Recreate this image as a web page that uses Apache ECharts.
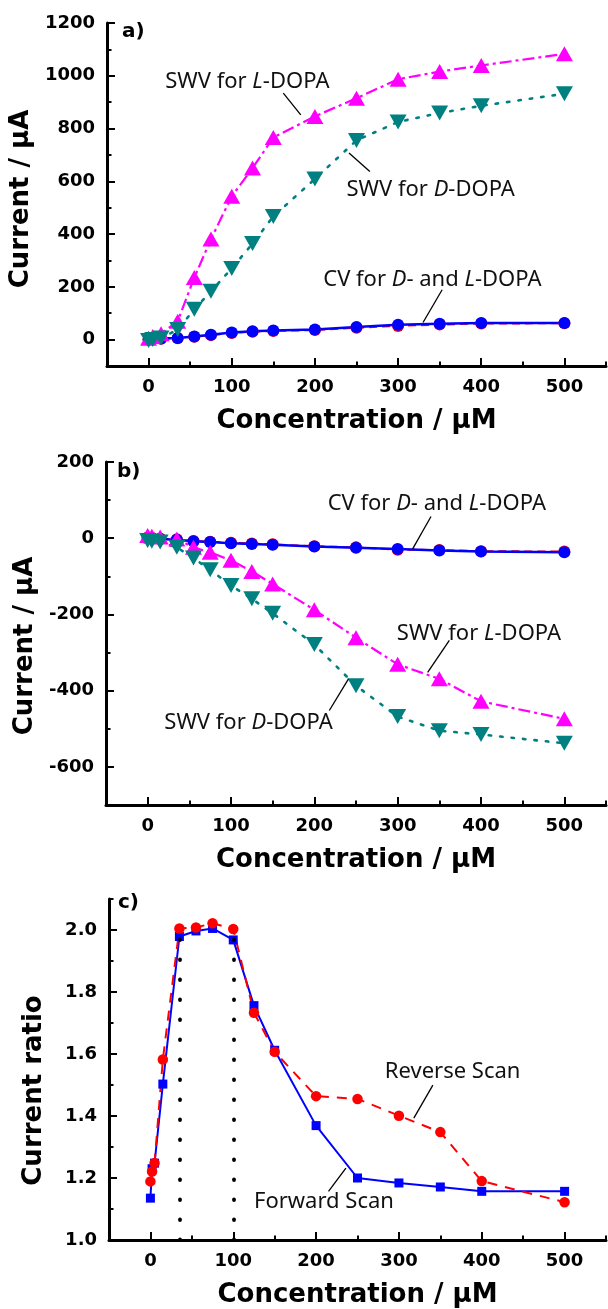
<!DOCTYPE html>
<html><head><meta charset="utf-8">
<script src="https://cdn.jsdelivr.net/npm/echarts@6/dist/echarts.min.js"></script>
<style>html,body{margin:0;padding:0;background:#fff}#c{width:608px;height:1309px}</style>
</head><body><div id="c"></div>
<script>
// ---------- data ----------
const concAB = [0, 5, 15, 35, 55, 75, 100, 125, 150, 200, 250, 300, 350, 400, 500];
const aSwvL = [5, 12, 22, 70, 235, 381, 543, 650, 766, 846, 915, 987, 1016, 1039, 1083];
const aSwvD = [-3, 0, 6, 38, 115, 183, 270, 364, 467, 609, 755, 825, 859, 886, 932];
const aCvL = [0, 2, 4, 6, 12, 18, 27, 32, 35, 38, 48, 56, 60, 63, 63];
const aCvD = [0, 1, 3, 5, 11, 17, 25, 30, 33, 36, 45, 52, 57, 61, 62];

const bSwvL = [7, 5, 3, -2, -24, -37, -58, -87, -120, -188, -261, -331, -369, -428, -474];
const bSwvD = [-6, -8, -10, -24, -52, -83, -124, -159, -197, -279, -387, -468, -505, -515, -538];
const bCvL = [1, 0, -2, -4, -8, -10, -13, -15, -17, -22, -25, -28, -32, -35, -37];
const bCvD = [2, 1, -1, -3, -7, -9, -12, -14, -16, -21, -24, -30, -31, -34, -35];

const concC = [0, 2, 5, 15, 35, 55, 75, 100, 125, 150, 200, 250, 300, 350, 400, 500];
const cForward = [1.135, 1.23, 1.248, 1.503, 1.979, 1.997, 2.005, 1.968, 1.756, 1.612, 1.369, 1.2, 1.184, 1.171, 1.157, 1.157];
const cReverse = [1.189, 1.221, 1.248, 1.582, 2.005, 2.008, 2.022, 2.003, 1.733, 1.607, 1.464, 1.455, 1.401, 1.348, 1.19, 1.122];
const dotLineX = [35, 100];

const xTicks = [0, 100, 200, 300, 400, 500];
const xMinorTicks = [50, 150, 250, 350, 450, 550];
const aYTicks = [0, 200, 400, 600, 800, 1000, 1200];
const aYMinor = [100, 300, 500, 700, 900, 1100];
const bYTicks = [-600, -400, -200, 0, 200];
const bYMinor = [-500, -300, -100, 100];
const cYTicks = [1.0, 1.2, 1.4, 1.6, 1.8, 2.0];
const cYMinor = [1.1, 1.3, 1.5, 1.7, 1.9, 2.1];

const xTitle = 'Concentration / μM';
const yTitles = ['Current / μA', 'Current / μA', 'Current ratio'];
const panelLabels = ['a)', 'b)', 'c)'];

// ---------- helpers ----------
const BOLD = {fontFamily: 'DejaVu Sans', fontWeight: 'bold', color: '#000'};
const pair = (xs, ys) => xs.map((x, i) => [x, ys[i]]);

const grids = [
  {left: 106, top: 23, width: 500, height: 343},
  {left: 106, top: 462, width: 500, height: 343},
  {left: 109, top: 899, width: 497, height: 343}
];

const xAxis = [], yAxis = [];
const yRanges = [[-100, 1200], [-700, 200], [1.0, 2.1]];
const yMajors = [aYTicks, bYTicks, cYTicks];
const yMinors = [aYMinor, bYMinor, cYMinor];
const yNameGap = [66, 66, 62];
const yNamePad = [[0, 9, 0, 0], [0, 25, 0, 0], [0, 42, 0, 0]];

for (let g = 0; g < 3; g++) {
  xAxis.push({
    type: 'value', gridIndex: g, min: -50, max: 550, position: 'bottom',
    axisLine: {show: true, onZero: false, lineStyle: {color: '#000', width: 3}},
    axisTick: {show: true, inside: true, length: 8, customValues: xTicks, lineStyle: {color: '#000', width: 2}},
    axisLabel: Object.assign({customValues: xTicks, fontSize: 18, margin: 12}, BOLD),
    splitLine: {show: false},
    name: xTitle, nameLocation: 'middle', nameGap: 42,
    nameTextStyle: Object.assign({fontSize: 26}, BOLD)
  });
  xAxis.push({
    type: 'value', gridIndex: g, min: -50, max: 550, position: 'bottom',
    axisLine: {show: false, onZero: false},
    axisTick: {show: true, inside: true, length: 4.5, customValues: xMinorTicks, lineStyle: {color: '#000', width: 2}},
    axisLabel: {show: false}, splitLine: {show: false}
  });
  yAxis.push({
    type: 'value', gridIndex: g, min: yRanges[g][0], max: yRanges[g][1], position: 'left',
    axisLine: {show: true, onZero: false, lineStyle: {color: '#000', width: 3}},
    axisTick: {show: true, inside: true, length: 8, customValues: yMajors[g], lineStyle: {color: '#000', width: 2}},
    axisLabel: Object.assign({customValues: yMajors[g], fontSize: 18, margin: 12,
      formatter: g === 2 ? (v => Number(v).toFixed(1)) : (v => String(Math.round(v)))}, BOLD),
    splitLine: {show: false},
    name: yTitles[g], nameLocation: 'middle', nameGap: yNameGap[g],
    nameTextStyle: Object.assign({fontSize: 26, padding: yNamePad[g]}, BOLD)
  });
  yAxis.push({
    type: 'value', gridIndex: g, min: yRanges[g][0], max: yRanges[g][1], position: 'left',
    axisLine: {show: false, onZero: false},
    axisTick: {show: true, inside: true, length: 4.5, customValues: yMinors[g], lineStyle: {color: '#000', width: 2}},
    axisLabel: {show: false}, splitLine: {show: false}
  });
}

function ser(g, xs, ys, o) {
  return Object.assign({
    type: 'line', xAxisIndex: 2 * g, yAxisIndex: 2 * g, data: pair(xs, ys),
    showSymbol: true, animation: false, z: 2
  }, o);
}
const MAG = '#FF00FF', TEAL = '#008080', BLUE = '#0000FF', RED = '#FF0000';
const dashDot = [12, 4, 3, 4];
const dotted = [2.5, 9];
const series = [];
[[aCvD, aCvL, aSwvL, aSwvD], [bCvD, bCvL, bSwvL, bSwvD]].forEach((arrs, g) => {
  series.push(ser(g, concAB, arrs[0], {name: 'CV D', symbol: 'circle', symbolSize: 12,
    itemStyle: {color: RED}, lineStyle: {color: RED, width: 2, type: [8, 5]}}));
  series.push(ser(g, concAB, arrs[1], {name: 'CV L', symbol: 'circle', symbolSize: 12,
    itemStyle: {color: BLUE}, lineStyle: {color: BLUE, width: 2.5}}));
  series.push(ser(g, concAB, arrs[2], {name: 'SWV L', symbol: 'triangle', symbolSize: [17, 15],
    itemStyle: {color: MAG}, lineStyle: {color: MAG, width: 2.2, type: dashDot}}));
  series.push(ser(g, concAB, arrs[3], {name: 'SWV D', symbol: 'triangle', symbolRotate: 180, symbolSize: [17, 15],
    itemStyle: {color: TEAL}, lineStyle: {color: TEAL, width: 2.6, type: dotted, cap: 'round'}}));
});
series.push(ser(2, concC, cForward, {name: 'Forward Scan', symbol: 'rect', symbolSize: 9,
  itemStyle: {color: BLUE}, lineStyle: {color: BLUE, width: 2},
  markLine: {silent: true, symbol: 'none', animation: false, label: {show: false},
    lineStyle: {color: '#000', width: 3.8, type: [0.5, 19.5], cap: 'round'},
    data: dotLineX.map(x => [{coord: [x, cYTicks[0]]}, {coord: [x, cYTicks[cYTicks.length - 1]]}])}}));
series.push(ser(2, concC, cReverse, {name: 'Reverse Scan', symbol: 'circle', symbolSize: 10.5,
  itemStyle: {color: RED}, lineStyle: {color: RED, width: 2, type: [10, 8]}}));

const chart = echarts.init(document.getElementById('c'), null, {renderer: 'canvas'});
chart.setOption({animation: false, backgroundColor: '#fff', grid: grids, xAxis, yAxis, series});

// ---------- annotations (positions in data units) ----------
const IT = (s) => '{i|' + s + '}';
const N = (s) => '{n|' + s + '}';
const notes = [
  {g: 0, text: N('SWV for ') + IT('L') + N('-DOPA'), at: [20, 978], line: [[162, 934], [183, 852]]},
  {g: 0, text: N('SWV for ') + IT('D') + N('-DOPA'), at: [238, 568], line: [[241, 707], [266, 637]]},
  {g: 0, text: N('CV for ') + IT('D') + N('- and ') + IT('L') + N('-DOPA'), at: [210, 227], line: [[353, 189], [330, 65]]},
  {g: 1, text: N('CV for ') + IT('D') + N('- and ') + IT('L') + N('-DOPA'), at: [216, 90], line: [[340, 57], [318, -28]]},
  {g: 1, text: N('SWV for ') + IT('L') + N('-DOPA'), at: [299, -251], line: [[362, -268], [336, -352]]},
  {g: 1, text: N('SWV for ') + IT('D') + N('-DOPA'), at: [20, -483], line: [[241, -369], [218, -452]]},
  {g: 2, text: N('Reverse Scan'), at: [283, 1.544], line: [[341, 1.4995], [318, 1.393]]},
  {g: 2, text: N('Forward Scan'), at: [125, 1.125], line: [[236, 1.232], [215, 1.157]]}
];
const NOTE_FONT = {fontFamily: 'Noto Sans', fontSize: 22, fill: '#111'};
const graphics = [];
notes.forEach(n => {
  const finder = {xAxisIndex: 2 * n.g, yAxisIndex: 2 * n.g};
  const p = chart.convertToPixel(finder, n.at);
  const a = chart.convertToPixel(finder, n.line[0]);
  const b = chart.convertToPixel(finder, n.line[1]);
  graphics.push({type: 'text', silent: true, z: 10, style: {
    text: n.text, x: p[0], y: p[1], align: 'left', verticalAlign: 'middle',
    rich: {n: Object.assign({}, NOTE_FONT), i: Object.assign({fontStyle: 'italic'}, NOTE_FONT)}}});
  graphics.push({type: 'line', silent: true, z: 10, shape: {x1: a[0], y1: a[1], x2: b[0], y2: b[1]},
    style: {stroke: '#000', lineWidth: 1.3}});
});
const labelOffsets = [[16, 9], [11, 10], [9, 4]];
panelLabels.forEach((t, g) => {
  graphics.push({type: 'text', silent: true, z: 10, style: {
    text: t, x: grids[g].left + labelOffsets[g][0], y: grids[g].top + labelOffsets[g][1],
    align: 'left', verticalAlign: 'middle', fontFamily: 'DejaVu Sans', fontWeight: 'bold', fontSize: 20, fill: '#000'}});
});
chart.setOption({graphic: graphics});
</script>
</body></html>
